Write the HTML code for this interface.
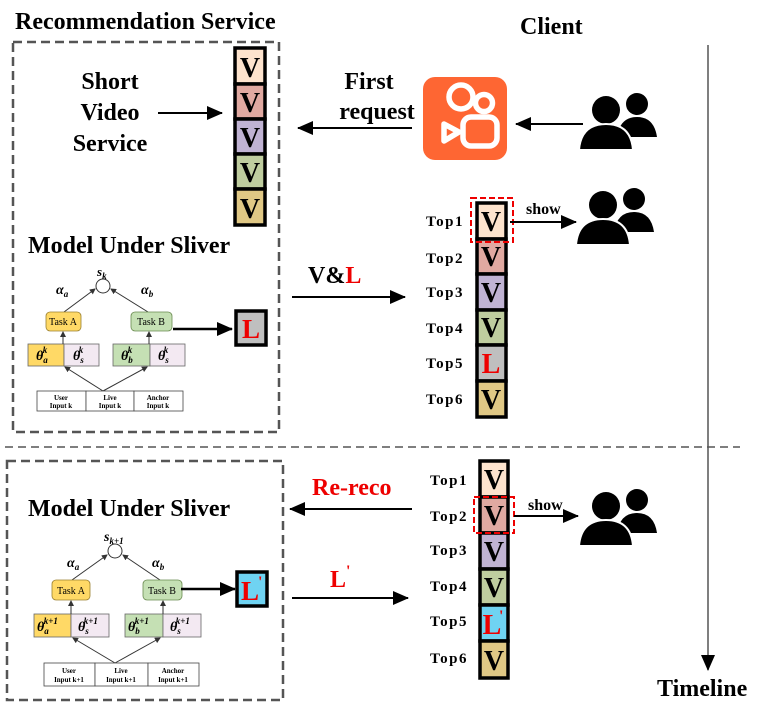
<!DOCTYPE html>
<html><head><meta charset="utf-8"><style>
body{margin:0;background:#fff}
svg{display:block;font-family:"Liberation Serif",serif}
.b{font-weight:bold}
</style></head><body>
<svg width="769" height="715" viewBox="0 0 769 715" xmlns="http://www.w3.org/2000/svg">
<defs>
<marker id="ahb" markerWidth="16" markerHeight="14" refX="15" refY="7" orient="auto" markerUnits="userSpaceOnUse"><path d="M0,0 L16,7 L0,14 Z" fill="#000"/></marker>
<marker id="as" markerWidth="6" markerHeight="6" refX="5" refY="3" orient="auto" markerUnits="userSpaceOnUse"><path d="M0,0 L6,3 L0,6 Z" fill="#333"/></marker>
<g id="ppl">
<circle cx="56" cy="11" r="11" fill="#000"/>
<path d="M36,44 Q39,24 56,24 Q73,24 76,44 Z" fill="#000"/>
<circle cx="25" cy="17" r="16" fill="#fff"/>
<circle cx="25" cy="17" r="14" fill="#000"/>
<path d="M-2,57 Q0,31 25,31 Q50,31 52,57 Z" fill="#000" stroke="#fff" stroke-width="2"/>
</g>
</defs>

<text x="15" y="29" class="b" font-size="24">Recommendation Service</text>
<text x="520" y="34" class="b" font-size="24">Client</text>

<rect x="13" y="42" width="266" height="390" fill="none" stroke="#555" stroke-width="2.5" stroke-dasharray="9,5"/>
<rect x="7" y="461" width="276" height="239" fill="none" stroke="#555" stroke-width="2.5" stroke-dasharray="9,5"/>
<line x1="5" y1="447" x2="740" y2="447" stroke="#555" stroke-width="1.5" stroke-dasharray="8,5"/>

<line x1="708" y1="45" x2="708" y2="670" stroke="#555" stroke-width="1.5" marker-end="url(#ahb)"/>
<text x="657" y="696" class="b" font-size="24">Timeline</text>

<g class="b" font-size="24" text-anchor="middle">
<text x="110" y="89">Short</text><text x="110" y="120">Video</text><text x="110" y="151">Service</text>
<text x="369" y="89">First</text><text x="377" y="119">request</text>
</g>
<line x1="158" y1="113" x2="222" y2="113" stroke="#000" stroke-width="2" marker-end="url(#ahb)"/>
<line x1="412" y1="128" x2="298" y2="128" stroke="#000" stroke-width="2" marker-end="url(#ahb)"/>
<line x1="583" y1="124" x2="516" y2="124" stroke="#000" stroke-width="2" marker-end="url(#ahb)"/>

<g stroke="#000" stroke-width="3.5">
<rect x="235" y="48" width="30" height="36" fill="#fde3cd"/>
<rect x="235" y="84" width="30" height="35" fill="#e0a9a1"/>
<rect x="235" y="119" width="30" height="35" fill="#c0b3d3"/>
<rect x="235" y="154" width="30" height="35" fill="#bfcd9f"/>
<rect x="235" y="189" width="30" height="36" fill="#e0c885"/>
</g>
<g class="b" font-size="28" text-anchor="middle">
<text x="250" y="77">V</text><text x="250" y="112">V</text><text x="250" y="147">V</text><text x="250" y="182">V</text><text x="250" y="218">V</text>
</g>

<rect x="423" y="77" width="84" height="83" rx="12" fill="#fe6633"/>
<g fill="none" stroke="#fff" stroke-width="5.5">
<circle cx="461" cy="97" r="12"/><circle cx="484" cy="103" r="8.5"/>
<rect x="463" y="117" width="34" height="29" rx="8"/>
<path d="M444,124 L459,132 L444,141 Z" stroke-linejoin="round"/>
</g>

<use href="#ppl" x="581" y="93"/>
<use href="#ppl" x="578" y="188"/>
<use href="#ppl" x="581" y="489"/>

<text x="28" y="253" class="b" font-size="24">Model Under Sliver</text>
<g font-size="10">
<circle cx="103" cy="286" r="7" fill="#fff" stroke="#333"/>
<text x="97" y="276" font-style="italic" class="b" font-size="13">s<tspan font-size="9" dy="3">k</tspan></text>
<text x="56" y="294" font-style="italic" class="b" font-size="14">α<tspan font-size="9" dy="3">a</tspan></text>
<text x="141" y="294" font-style="italic" class="b" font-size="14">α<tspan font-size="9" dy="3">b</tspan></text>
<line x1="64" y1="312" x2="95" y2="289" stroke="#333" marker-end="url(#as)"/>
<line x1="148" y1="312" x2="111" y2="289" stroke="#333" marker-end="url(#as)"/>
<rect x="46" y="312" width="35" height="19" rx="4" fill="#ffd966" stroke="#9a8030" stroke-width=".8"/>
<rect x="131" y="312" width="41" height="19" rx="4" fill="#c5e0b4" stroke="#6a8a50" stroke-width=".8"/>
<text x="63" y="325" text-anchor="middle">Task A</text><text x="151" y="325" text-anchor="middle">Task B</text>
<rect x="28" y="344" width="36" height="22" fill="#ffd966" stroke="#666" stroke-width=".8"/>
<rect x="64" y="344" width="35" height="22" fill="#f3e9f2" stroke="#666" stroke-width=".8"/>
<rect x="113" y="344" width="37" height="22" fill="#c5e0b4" stroke="#666" stroke-width=".8"/>
<rect x="150" y="344" width="35" height="22" fill="#f3e9f2" stroke="#666" stroke-width=".8"/>
<g font-size="14" font-style="italic" class="b">
<text x="36" y="360">θ<tspan font-size="9" dy="3">a</tspan><tspan font-size="9" dx="-5" dy="-10">k</tspan></text>
<text x="73" y="360">θ<tspan font-size="9" dy="3">s</tspan><tspan font-size="9" dx="-5" dy="-10">k</tspan></text>
<text x="121" y="360">θ<tspan font-size="9" dy="3">b</tspan><tspan font-size="9" dx="-5" dy="-10">k</tspan></text>
<text x="158" y="360">θ<tspan font-size="9" dy="3">s</tspan><tspan font-size="9" dx="-5" dy="-10">k</tspan></text>
</g>
<line x1="63" y1="344" x2="63" y2="332" stroke="#333" marker-end="url(#as)"/>
<line x1="149" y1="344" x2="149" y2="332" stroke="#333" marker-end="url(#as)"/>
<line x1="103" y1="391" x2="65" y2="367" stroke="#333" marker-end="url(#as)"/>
<line x1="103" y1="391" x2="147" y2="367" stroke="#333" marker-end="url(#as)"/>
<rect x="37" y="391" width="49" height="20" fill="#fff" stroke="#444" stroke-width=".8"/>
<rect x="86" y="391" width="48" height="20" fill="#fff" stroke="#444" stroke-width=".8"/>
<rect x="134" y="391" width="49" height="20" fill="#fff" stroke="#444" stroke-width=".8"/>
<g font-size="7" class="b" text-anchor="middle">
<text x="61" y="400">User</text><text x="61" y="408">Input k</text>
<text x="110" y="400">Live</text><text x="110" y="408">Input k</text>
<text x="158" y="400">Anchor</text><text x="158" y="408">Input k</text>
</g>
</g>
<line x1="173" y1="329" x2="232" y2="329" stroke="#000" stroke-width="2.5" marker-end="url(#ahb)"/>
<rect x="236" y="311" width="30" height="34" fill="#bfbfbf" stroke="#000" stroke-width="3.5"/>
<text x="251" y="338" text-anchor="middle" class="b" font-size="27" fill="#e00">L</text>

<text x="308" y="283" class="b" font-size="24">V&amp;<tspan fill="#e00">L</tspan></text>
<line x1="292" y1="297" x2="405" y2="297" stroke="#000" stroke-width="2" marker-end="url(#ahb)"/>

<g class="b" font-size="15" letter-spacing="1.5">
<text x="426" y="226">Top1</text><text x="426" y="263">Top2</text><text x="426" y="297">Top3</text>
<text x="426" y="333">Top4</text><text x="426" y="368">Top5</text><text x="426" y="404">Top6</text>
</g>
<g stroke="#000" stroke-width="3.5">
<rect x="477" y="203" width="29" height="36" fill="#fde3cd"/>
<rect x="477" y="239" width="29" height="35" fill="#e0a9a1"/>
<rect x="477" y="274" width="29" height="36" fill="#c0b3d3"/>
<rect x="477" y="310" width="29" height="35" fill="#bfcd9f"/>
<rect x="477" y="345" width="29" height="36" fill="#bfbfbf"/>
<rect x="477" y="381" width="29" height="36" fill="#e0c885"/>
</g>
<g class="b" font-size="28" text-anchor="middle">
<text x="491" y="231">V</text><text x="491" y="266">V</text><text x="491" y="302">V</text><text x="491" y="337">V</text>
<text x="491" y="373" fill="#e00">L</text><text x="491" y="409">V</text>
</g>
<rect x="471" y="198" width="42" height="44" fill="none" stroke="#e00" stroke-width="2" stroke-dasharray="6,3"/>
<text x="526" y="214" class="b" font-size="16">show</text>
<line x1="510" y1="222" x2="576" y2="222" stroke="#000" stroke-width="2" marker-end="url(#ahb)"/>

<text x="28" y="516" class="b" font-size="24">Model Under Sliver</text>
<text x="312" y="495" class="b" font-size="24" fill="#e00">Re-reco</text>
<line x1="412" y1="509" x2="290" y2="509" stroke="#000" stroke-width="2" marker-end="url(#ahb)"/>
<text x="330" y="587" class="b" font-size="24" fill="#e00">L<tspan font-size="16" dy="-11">'</tspan></text>
<line x1="292" y1="598" x2="408" y2="598" stroke="#000" stroke-width="2" marker-end="url(#ahb)"/>

<g font-size="10">
<circle cx="115" cy="551" r="7" fill="#fff" stroke="#333"/>
<text x="104" y="541" font-style="italic" class="b" font-size="14">s<tspan font-size="9" dy="3">k+1</tspan></text>
<text x="67" y="567" font-style="italic" class="b" font-size="14">α<tspan font-size="9" dy="3">a</tspan></text>
<text x="152" y="567" font-style="italic" class="b" font-size="14">α<tspan font-size="9" dy="3">b</tspan></text>
<line x1="72" y1="580" x2="107" y2="555" stroke="#333" marker-end="url(#as)"/>
<line x1="160" y1="580" x2="123" y2="555" stroke="#333" marker-end="url(#as)"/>
<rect x="52" y="580" width="38" height="20" rx="4" fill="#ffd966" stroke="#9a8030" stroke-width=".8"/>
<rect x="143" y="580" width="39" height="20" rx="4" fill="#c5e0b4" stroke="#6a8a50" stroke-width=".8"/>
<text x="71" y="594" text-anchor="middle">Task A</text><text x="162" y="594" text-anchor="middle">Task B</text>
<rect x="34" y="614" width="37" height="23" fill="#ffd966" stroke="#666" stroke-width=".8"/>
<rect x="71" y="614" width="38" height="23" fill="#f3e9f2" stroke="#666" stroke-width=".8"/>
<rect x="125" y="614" width="38" height="23" fill="#c5e0b4" stroke="#666" stroke-width=".8"/>
<rect x="163" y="614" width="38" height="23" fill="#f3e9f2" stroke="#666" stroke-width=".8"/>
<g font-size="14" font-style="italic" class="b">
<text x="37" y="631">θ<tspan font-size="9" dy="3">a</tspan><tspan font-size="9" dx="-5" dy="-10">k+1</tspan></text>
<text x="78" y="631">θ<tspan font-size="9" dy="3">s</tspan><tspan font-size="9" dx="-5" dy="-10">k+1</tspan></text>
<text x="128" y="631">θ<tspan font-size="9" dy="3">b</tspan><tspan font-size="9" dx="-5" dy="-10">k+1</tspan></text>
<text x="170" y="631">θ<tspan font-size="9" dy="3">s</tspan><tspan font-size="9" dx="-5" dy="-10">k+1</tspan></text>
</g>
<line x1="71" y1="614" x2="71" y2="601" stroke="#333" marker-end="url(#as)"/>
<line x1="163" y1="614" x2="163" y2="601" stroke="#333" marker-end="url(#as)"/>
<line x1="115" y1="663" x2="73" y2="638" stroke="#333" marker-end="url(#as)"/>
<line x1="115" y1="663" x2="160" y2="638" stroke="#333" marker-end="url(#as)"/>
<rect x="44" y="663" width="51" height="23" fill="#fff" stroke="#444" stroke-width=".8"/>
<rect x="95" y="663" width="53" height="23" fill="#fff" stroke="#444" stroke-width=".8"/>
<rect x="148" y="663" width="51" height="23" fill="#fff" stroke="#444" stroke-width=".8"/>
<g font-size="7" class="b" text-anchor="middle">
<text x="69" y="673">User</text><text x="69" y="682">Input k+1</text>
<text x="121" y="673">Live</text><text x="121" y="682">Input k+1</text>
<text x="173" y="673">Anchor</text><text x="173" y="682">Input k+1</text>
</g>
</g>
<line x1="181" y1="589" x2="235" y2="589" stroke="#000" stroke-width="2.5" marker-end="url(#ahb)"/>
<rect x="237" y="572" width="30" height="34" fill="#6fd3f2" stroke="#000" stroke-width="3.5"/>
<text x="250" y="600" text-anchor="middle" class="b" font-size="27" fill="#e00">L</text>
<text x="258" y="587" class="b" font-size="16" fill="#e00">'</text>

<g class="b" font-size="15" letter-spacing="1.5">
<text x="430" y="485">Top1</text><text x="430" y="521">Top2</text><text x="430" y="555">Top3</text>
<text x="430" y="591">Top4</text><text x="430" y="626">Top5</text><text x="430" y="663">Top6</text>
</g>
<g stroke="#000" stroke-width="3.5">
<rect x="480" y="461" width="28" height="36" fill="#fde3cd"/>
<rect x="480" y="497" width="28" height="36" fill="#e0a9a1"/>
<rect x="480" y="533" width="28" height="36" fill="#c0b3d3"/>
<rect x="480" y="569" width="28" height="36" fill="#bfcd9f"/>
<rect x="480" y="605" width="28" height="36" fill="#6fd3f2"/>
<rect x="480" y="641" width="28" height="37" fill="#e0c885"/>
</g>
<g class="b" font-size="28" text-anchor="middle">
<text x="494" y="489">V</text><text x="494" y="525">V</text><text x="494" y="561">V</text><text x="494" y="597">V</text>
<text x="492" y="634" fill="#e00">L</text><text x="494" y="670">V</text>
</g>
<text x="499" y="621" class="b" font-size="16" fill="#e00">'</text>
<rect x="474" y="497" width="40" height="36" fill="none" stroke="#e00" stroke-width="2" stroke-dasharray="6,3"/>
<text x="528" y="510" class="b" font-size="16">show</text>
<line x1="514" y1="516" x2="578" y2="516" stroke="#000" stroke-width="2" marker-end="url(#ahb)"/>
</svg>
</body></html>
